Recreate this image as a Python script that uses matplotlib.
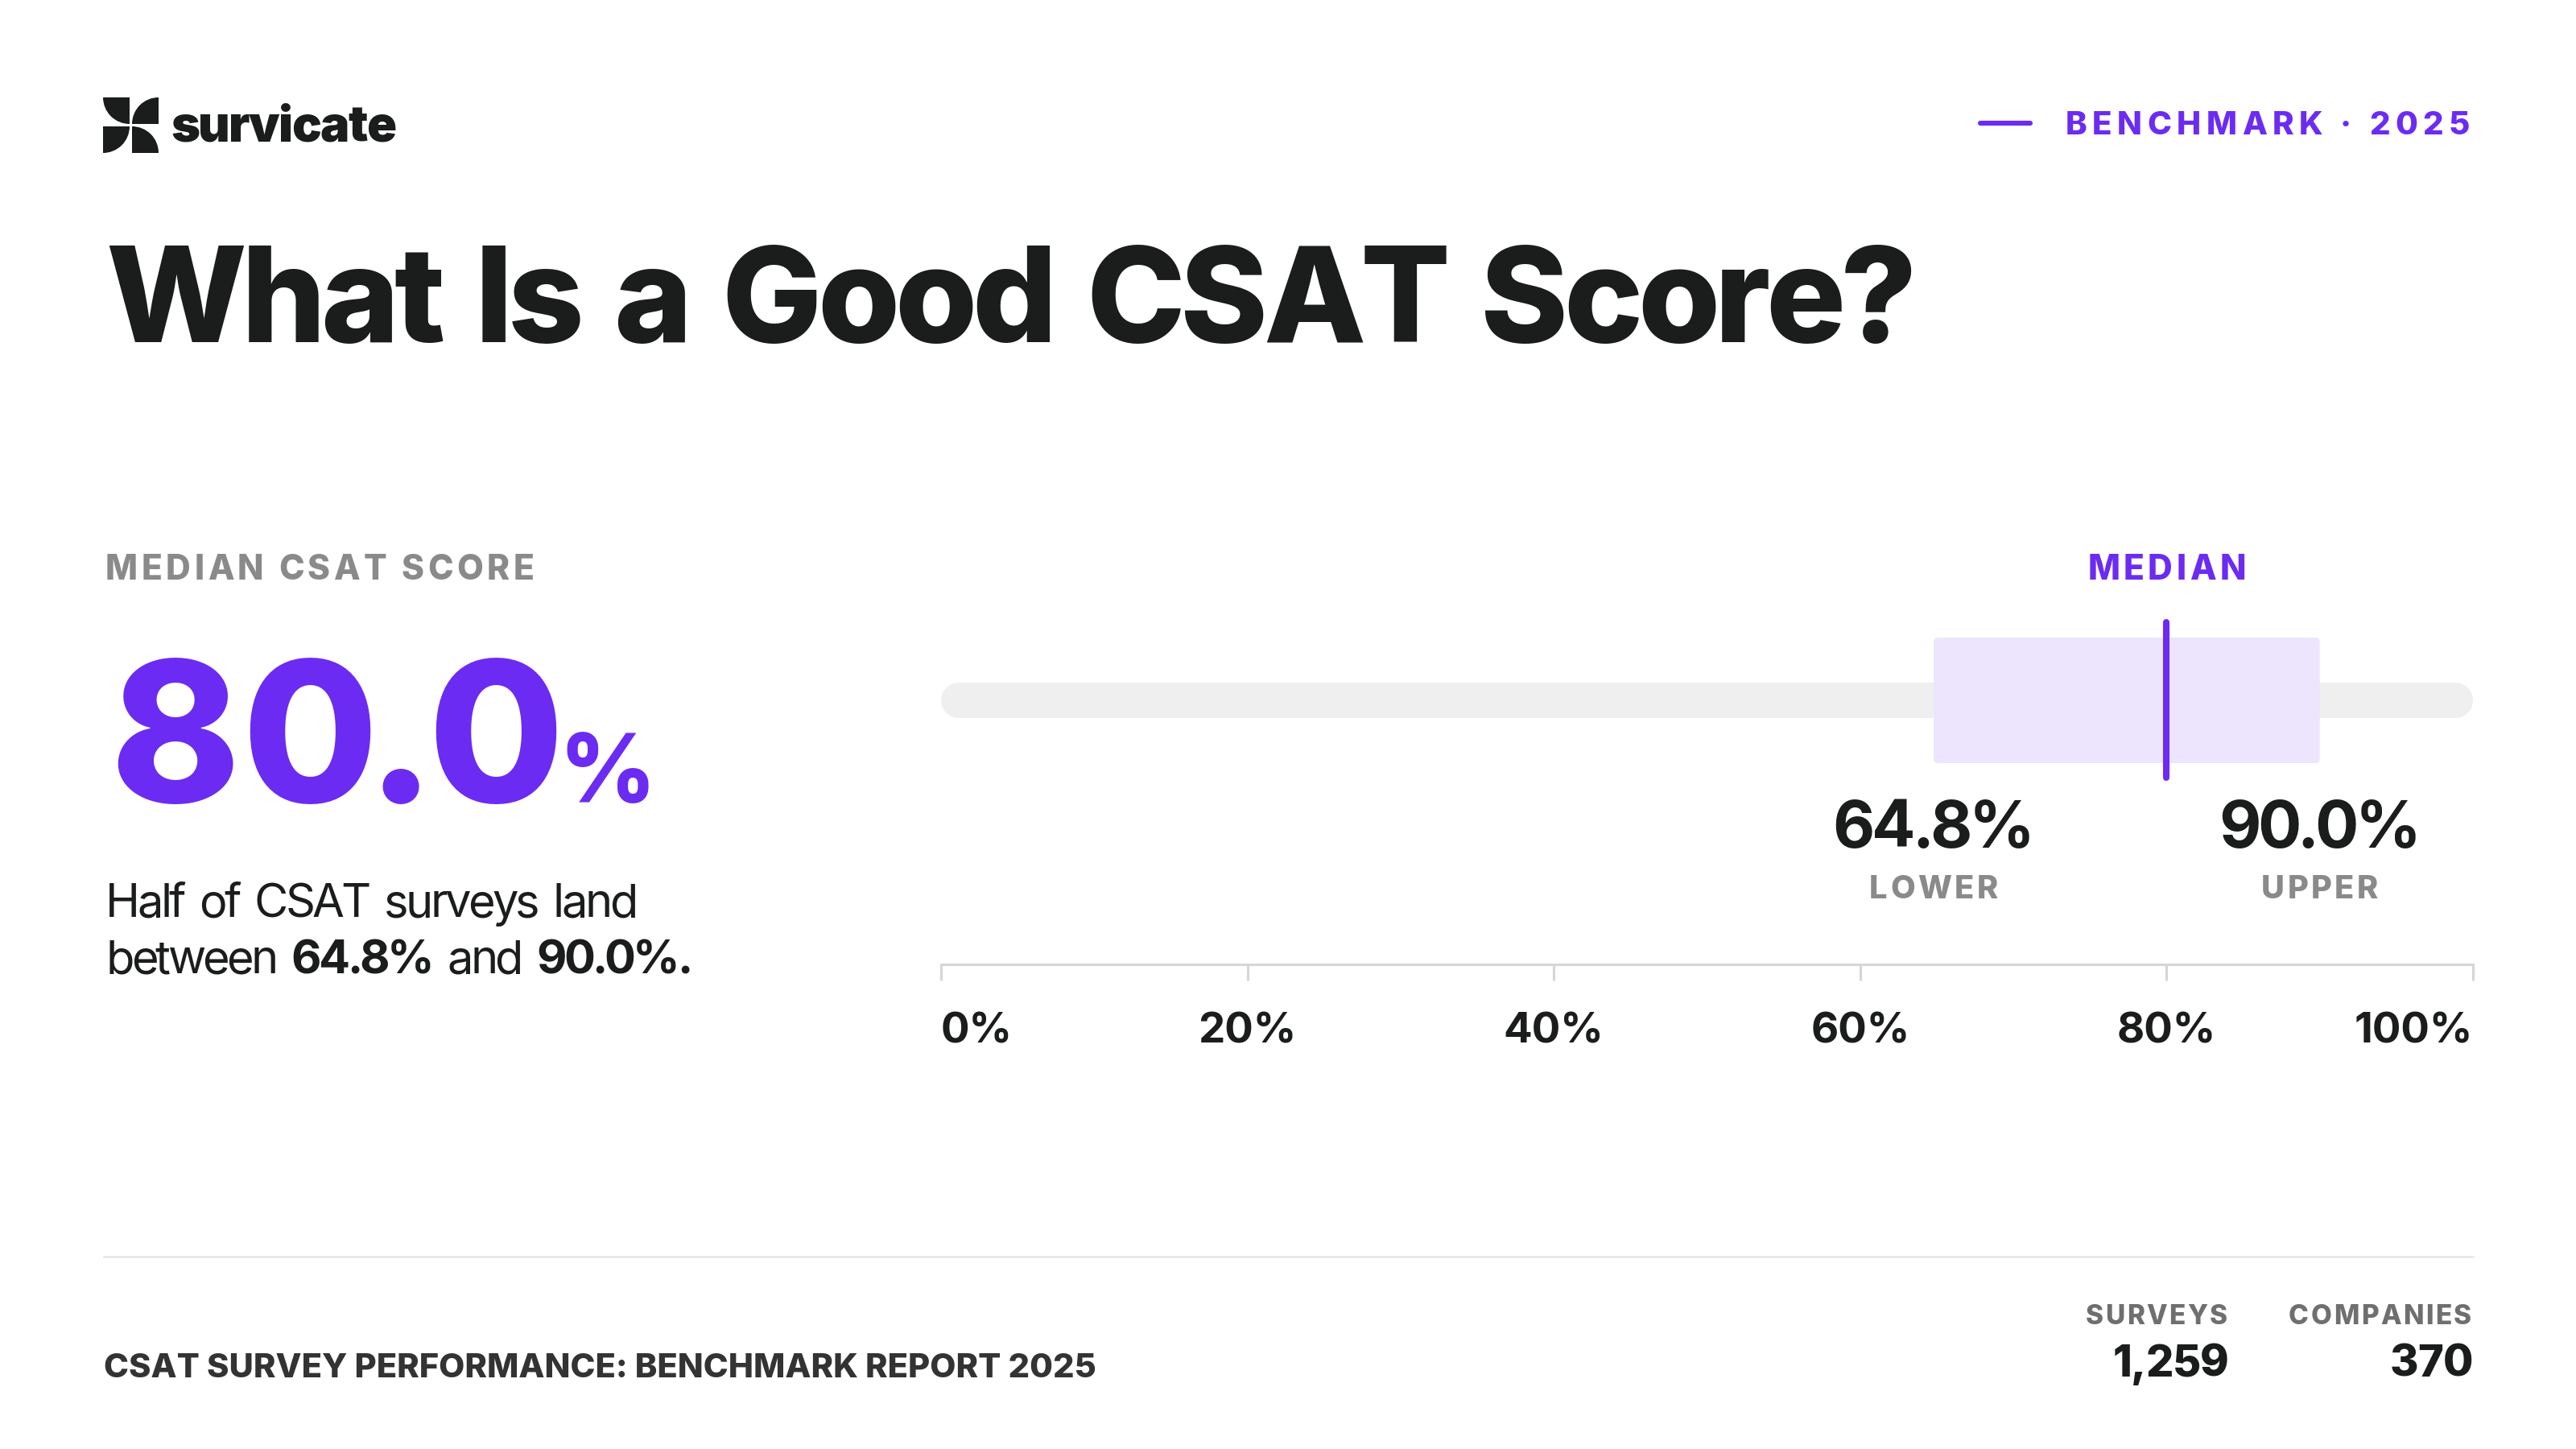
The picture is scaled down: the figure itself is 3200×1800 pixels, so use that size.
import matplotlib
matplotlib.use("Agg")
import matplotlib.pyplot as plt
from matplotlib import transforms
from matplotlib.patches import FancyBboxPatch, Wedge

# values
median_score = 80.0
lower_q = 64.8
upper_q = 90.0
tick_values = [0, 20, 40, 60, 80, 100]
tick_labels = ["0%", "20%", "40%", "60%", "80%", "100%"]
stat_names = ["SURVEYS", "COMPANIES"]
stat_values = ["1,259", "370"]

PURPLE = "#6C2BF2"
LIGHT_PURPLE = "#ECE5FD"
DARK = "#1B1D1C"
GRAY = "#8A8A8A"
TRACK = "#EFEFEF"

plt.rcParams["font.family"] = ["Inter", "DejaVu Sans"]

fig = plt.figure(figsize=(16, 9), dpi=200)
fig.patch.set_facecolor("white")
ax = fig.add_axes([0, 0, 1, 1])
ax.set_xlim(0, 3200)
ax.set_ylim(1800, 0)
ax.axis("off")
renderer = fig.canvas.get_renderer()


def text_w(s, **kw):
    t = fig.text(0, 0, s, **kw)
    w = t.get_window_extent(renderer).width
    t.remove()
    return w


def seg_w(s, **kw):
    return text_w("x" + s + "x", **kw) - text_w("xx", **kw)


def put(a, x, y, dx, s, **kw):
    tr = transforms.offset_copy(a.transData, fig=fig, x=dx, y=0, units="dots")
    a.text(x, y, s, transform=tr, ha="left", va="baseline", **kw)


def tracked(a, x, y, s, track=None, width=None, space_gap=None, ha="left", **kw):
    # glyph by glyph with letter spacing (pixels); spaces become a fixed gap;
    # with width given the spacing is solved so the ink spans that width
    words = s.split(" ")
    nat = [text_w(w, **kw) for w in words]
    if space_gap is None:
        space_gap = seg_w(" ", **kw) + (2 * track if track else 0)
    inner = sum(len(w) - 1 for w in words)
    if width is not None:
        track = (width - sum(nat) - space_gap * (len(words) - 1)) / inner
    total = sum(nat) + track * inner + space_gap * (len(words) - 1)
    off = {"left": 0, "center": -total / 2, "right": -total}[ha]
    for w, n in zip(words, nat):
        for i, c in enumerate(w):
            left = text_w(w[:i + 1], **kw) - text_w(c, **kw) + track * i
            put(a, x, y, off + left, c, **kw)
        off += n + track * (len(w) - 1) + space_gap
    return total


def glyph_row(a, x, y, s, gaps, **kw):
    # glyphs side by side with the given extra gaps (pixels)
    off = 0
    for i, c in enumerate(s):
        put(a, x, y, off, c, **kw)
        off += text_w(c, **kw) + (gaps[i] if i < len(gaps) else 0)
    return off


# logo
cell, gap = 33, 3
lx, ly = 128, 121
rx, by = lx + cell + gap, ly + cell + gap
ax.add_patch(Wedge((lx + cell, ly), cell, 90, 180, color=DARK, lw=0))
ax.add_patch(Wedge((rx + cell, ly + cell), cell, 180, 270, color=DARK, lw=0))
ax.add_patch(Wedge((lx, by), cell, 0, 90, color=DARK, lw=0))
ax.add_patch(Wedge((rx, by + cell), cell, 270, 360, color=DARK, lw=0))
tracked(ax, 212, 176, "survicate", width=280, fontsize=22, fontweight="black", color=DARK)

# top right tag
ax.plot([2460, 2522], [153, 153], color=PURPLE, lw=2.2, solid_capstyle="round")
tracked(ax, 3068, 167, "BENCHMARK · 2025", track=6.5, ha="right",
        fontsize=14.5, fontweight="heavy", color=PURPLE)

# title
tracked(ax, 131, 425, "What Is a Good CSAT Score?", width=2251, space_gap=37,
        fontsize=59.5, fontweight="heavy", color=DARK)

# left block
tracked(ax, 131, 720, "MEDIAN CSAT SCORE", track=4.5,
        fontsize=15.3, fontweight="heavy", color=GRAY)
num_end = glyph_row(ax, 136, 997, f"{median_score:.1f}", [2, -15, -9, -6],
                    fontsize=88, fontweight="heavy", color=PURPLE)
ax.text(136 + num_end, 997, "%", fontsize=42, fontweight="heavy", color=PURPLE,
        va="baseline", ha="left")

body_fs = 20.8
line1 = "Half of CSAT surveys land"
body = dict(fontsize=body_fs, color=DARK)
bw = tracked(ax, 131, 1139, line1, width=661, **body)
body_track = (bw - sum(text_w(w, **body) for w in line1.split(" "))
              - seg_w(" ", **body) * 4) / sum(len(w) - 1 for w in line1.split(" "))
off = 0
for s, kw in [("between", {}), (f"{lower_q:.1f}%", {"fontweight": "bold"}),
              ("and", {}), (f"{upper_q:.1f}%.", {"fontweight": "bold"})]:
    off += tracked(ax, 131 + off, 1209, s, track=body_track, **body, **kw)
    off += seg_w(" ", **body)

# range chart axes: x in percent, y in pixels
ax2 = fig.add_axes([1169 / 3200, 0, (3072 - 1169) / 3200, 1])
ax2.set_xlim(0, 100)
ax2.set_ylim(1800, 0)
ax2.patch.set_alpha(0)
for s in ["top", "left", "right"]:
    ax2.spines[s].set_visible(False)
ax2.yaxis.set_visible(False)

px_per_pct = (3072 - 1169) / 100
track_h = 44
cap = track_h / 2 / px_per_pct
ax2.plot([cap, 100 - cap], [870, 870], color=TRACK, lw=track_h * 72 / 200,
         solid_capstyle="round", zorder=1)

box = FancyBboxPatch((lower_q, 792), upper_q - lower_q, 156,
                     boxstyle="round,pad=0,rounding_size=0.3",
                     mutation_aspect=px_per_pct,
                     facecolor=LIGHT_PURPLE, edgecolor="none", zorder=2)
ax2.add_patch(box)
ax2.plot([median_score, median_score], [773, 966], color=PURPLE, lw=2.9,
         solid_capstyle="round", zorder=3)

tracked(ax2, median_score, 720, "MEDIAN", track=4.5, ha="center",
        fontsize=15.3, fontweight="heavy", color=PURPLE)

for v, name in [(lower_q, "LOWER"), (upper_q, "UPPER")]:
    tracked(ax2, v, 1053, f"{v:.1f}%", width=251, ha="center",
            fontsize=29, fontweight="bold", color=DARK)
    tracked(ax2, v, 1116, name, track=3.5, ha="center",
            fontsize=14.3, fontweight="heavy", color=GRAY)

# axis
ax2.spines["bottom"].set_position(("data", 1198))
ax2.spines["bottom"].set_color("#D6D6D6")
ax2.spines["bottom"].set_linewidth(1.1)
ax2.set_xticks(tick_values)
ax2.set_xticklabels([])
ax2.tick_params(axis="x", direction="out", length=7.2, width=1.1, color="#D6D6D6")
for i, (v, lab) in enumerate(zip(tick_values, tick_labels)):
    ha = "left" if i == 0 else ("right" if i == len(tick_values) - 1 else "center")
    ax2.text(v, 1296, lab, fontsize=19, fontweight="bold", color=DARK,
             ha=ha, va="baseline")

# footer
ax.plot([129, 3072], [1561, 1561], color="#E6E6E6", lw=0.9)
ax.text(129, 1711, "CSAT SURVEY PERFORMANCE: BENCHMARK REPORT 2025", fontsize=15,
        fontweight="heavy", color="#333333", ha="left", va="baseline")
for name, val, xr in zip(stat_names, stat_values, [2767, 3070]):
    tracked(ax, xr, 1645, name, track=2.5, ha="right",
            fontsize=12, fontweight="heavy", color="#6F6F6F")
    tracked(ax, xr + 2, 1710, val, track=-1, ha="right",
            fontsize=19.5, fontweight="heavy", color=DARK)

fig.savefig("out.png", dpi=200, facecolor="white")
